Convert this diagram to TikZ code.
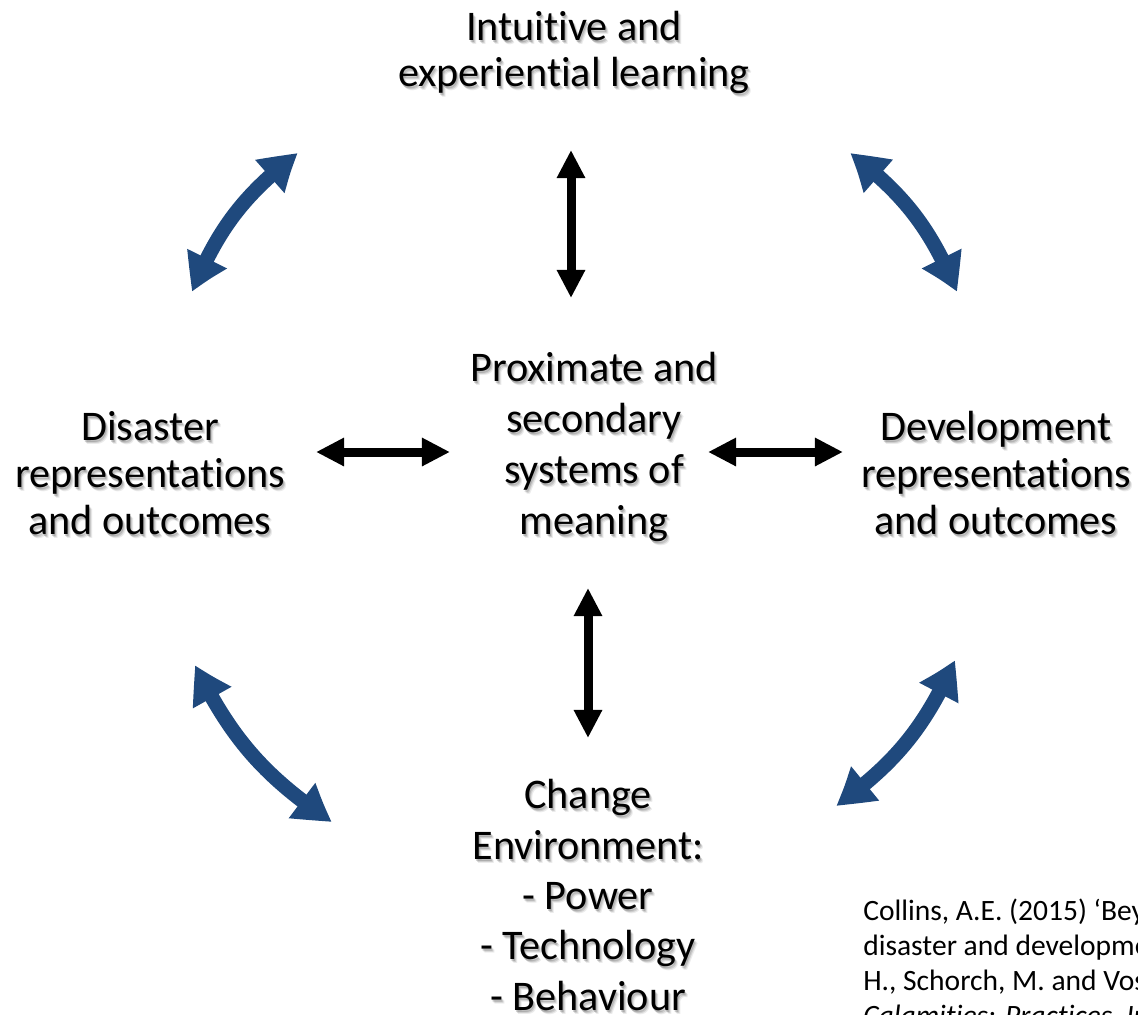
\documentclass[tikz,border=0pt]{standalone}
\usepackage{fontspec}
\setmainfont{Carlito}[Ligatures=NoCommon]
\usetikzlibrary{arrows.meta,bending}
\definecolor{arrowblue}{RGB}{31,73,125}

% a block of text with a soft grey shadow below right
\newcommand{\textblock}[4]{%
  \foreach \dx/\dy/\op in {1/2/0.16,2/3/0.12,3/4/0.08}
    \node(#1 shadow \dx)[label box,font=\fontsize{30}{#3}\selectfont,
        text opacity=\op,shift={(\dx,\dy)}] at (#2) {#4};
  \node(#1)[label box,font=\fontsize{30}{#3}\selectfont] at (#2) {#4};}

\begin{document}
\begin{tikzpicture}[x=0.025cm,y=-0.025cm]
  \tikzstyle{label box}=[align=center,inner sep=0pt]
  \tikzstyle{black arrow}=[line width=6.4pt,
      {Triangle[width=19pt,length=20pt]}-{Triangle[width=19pt,length=20pt]}]
  \tikzstyle{blue arrow}=[draw=arrowblue,line width=10.5pt,
      {Triangle[width=29pt,length=27pt,bend]}-{Triangle[width=29pt,length=27pt,bend]}]

  \useasboundingbox (0,0) rectangle (1138,1014);

  % the five boxes of text
  \textblock{intuitive}{574,52}{32.7}{Intuitive and\\experiential learning}
  \textblock{proximate}{594,447}{36.3}{Proximate and\\secondary\\systems of\\meaning}
  \textblock{disaster}{150,473}{33.4}{Disaster\\representations\\and outcomes}
  \textblock{development}{996,473}{33.4}{Development\\representations\\and outcomes}
  \textblock{change}{588,895}{35.8}{Change\\Environment:\\- Power\\- Technology\\- Behaviour}

  % ends of the arrows
  \coordinate(top a) at (571,150);
  \coordinate(top b) at (571,298);
  \coordinate(bottom a) at (588,588);
  \coordinate(bottom b) at (588,738);
  \coordinate(left a) at (316,452);
  \coordinate(left b) at (450,452);
  \coordinate(right a) at (708,452);
  \coordinate(right b) at (843,452);

  \coordinate(tl a) at (192,292);
  \coordinate(tl b) at (298,153);
  \coordinate(tr a) at (850,153);
  \coordinate(tr b) at (957,292);
  \coordinate(bl a) at (195,665);
  \coordinate(bl b) at (332,822);
  \coordinate(br a) at (955,660);
  \coordinate(br b) at (836,806);

  \draw[black arrow] (top a) -- (top b);
  \draw[black arrow] (bottom a) -- (bottom b);
  \draw[black arrow] (left a) -- (left b);
  \draw[black arrow] (right a) -- (right b);

  \draw[blue arrow] (tl a) to[bend left=15] (tl b);
  \draw[blue arrow] (tr a) to[bend left=15] (tr b);
  \draw[blue arrow] (bl a) to[bend right=15] (bl b);
  \draw[blue arrow] (br a) to[bend left=15] (br b);

  % reference, cut by the right edge
  \begin{scope}
    \clip (0,0) rectangle (1138,1014);
    \node(collins)[anchor=north west,align=left,inner sep=0pt,
        font=\fontsize{21}{24.8}\selectfont] at (863,899)
        {Collins, A.E. (2015) ‘Beyond\\disaster and development\\H., Schorch, M. and Voss,\\\textit{Calamities: Practices, Interpretations}};
  \end{scope}
\end{tikzpicture}
\end{document}
